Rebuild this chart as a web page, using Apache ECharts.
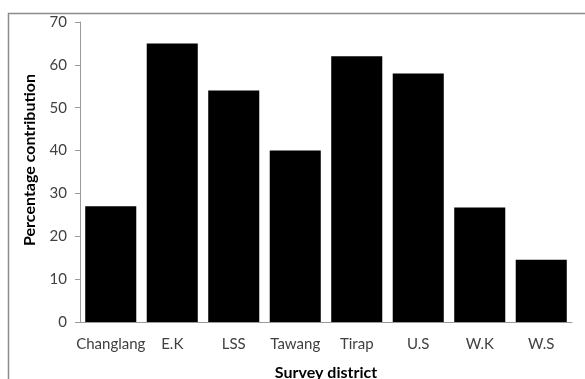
<!DOCTYPE html>
<html><head><meta charset="utf-8">
<script src="https://cdn.jsdelivr.net/npm/echarts@6/dist/echarts.min.js"></script>
<style>html,body{margin:0;padding:0;background:#fff}#c{width:585px;height:379px}</style>
</head><body><div id="c"></div>
<script>
const categories = ['Changlang','E.K','LSS','Tawang','Tirap','U.S','W.K','W.S'];
const values = [27, 65, 54, 40, 62, 58, 26.7, 14.5];
const yTicks = [0,10,20,30,40,50,60,70];

const chart = echarts.init(document.getElementById('c'), null, {renderer:'canvas'});
const font = 'Lato, "Open Sans", sans-serif';
chart.setOption({
  animation:false,
  backgroundColor:'#fff',
  graphic:[{type:'rect',shape:{x:8.5,y:13.5,width:600,height:400},style:{fill:'none',stroke:'#8c8c8c',lineWidth:1.5},silent:true}],
  grid:{left:80,right:13,top:22,bottom:57,containLabel:false,outerBoundsMode:'none'},
  xAxis:{type:'category',data:categories,
    axisLine:{lineStyle:{color:'#9a9a9a'}},
    axisTick:{show:false},
    axisLabel:{interval:0,color:'#404040',fontFamily:font,fontSize:15,margin:15},
    name:'Survey district',nameLocation:'middle',nameGap:43,
    nameTextStyle:{fontFamily:font,fontWeight:'bold',fontSize:16,color:'#000'}},
  yAxis:{type:'value',min:yTicks[0],max:yTicks[yTicks.length-1],interval:10,
    axisLine:{show:true,lineStyle:{color:'#9a9a9a'}},
    axisTick:{show:true,inside:false,length:5,lineStyle:{color:'#9a9a9a'}},
    splitLine:{show:false},
    axisLabel:{color:'#404040',fontFamily:font,fontSize:15,margin:13},
    name:'Percentage contribution',nameLocation:'middle',nameGap:42,
    nameTextStyle:{fontFamily:font,fontWeight:'bold',fontSize:16,color:'#000',padding:[0,0,0,24]}},
  series:[{type:'bar',data:values,barCategoryGap:'17%',itemStyle:{color:'#000'}}]
});
</script></body></html>
